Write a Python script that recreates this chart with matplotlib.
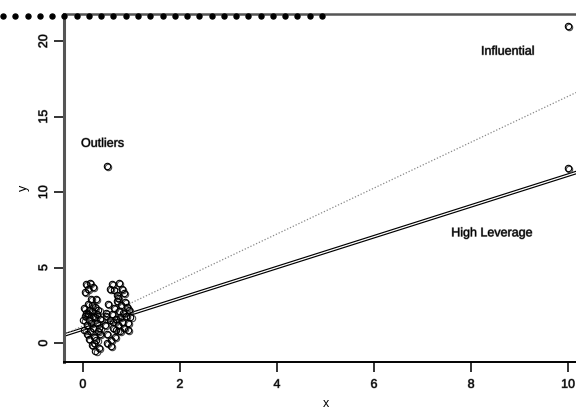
import numpy as np
import matplotlib
matplotlib.use('agg')
import matplotlib.pyplot as plt
from matplotlib import patheffects
from matplotlib.lines import Line2D
from matplotlib.transforms import offset_copy

plt.rcParams['font.family'] = ['Liberation Sans', 'DejaVu Sans']

# bulk of the sample: two clumps in 0 <= x <= 1
x_main = [0.02, 0.05, 0.08, 0.03, 0.10, 0.12, 0.15, 0.18, 0.20, 0.22,
          0.25, 0.28, 0.30, 0.33, 0.06, 0.10, 0.14, 0.20, 0.04, 0.17,
          0.24, 0.27, 0.32, 0.35, 0.12, 0.18, 0.26, 0.07, 0.13, 0.16,
          0.09, 0.21, 0.29, 0.34, 0.23, 0.01, 0.11, 0.19, 0.31, 0.36,
          0.45, 0.48, 0.50, 0.52, 0.55, 0.57, 0.60, 0.62, 0.64, 0.66,
          0.68, 0.70, 0.72, 0.74, 0.76, 0.78, 0.80, 0.82, 0.85, 0.88,
          0.90, 0.93, 0.95, 0.98, 0.55, 0.60, 0.65, 0.75, 0.80, 0.70,
          0.72, 0.84, 0.50, 0.58, 0.63, 0.69, 0.77, 0.86, 0.47, 0.92]
y_main = [2.3, 1.8, 1.2, 0.9, 2.6, 1.5, 0.8, 2.1, 1.0, 0.4,
          1.7, 0.2, 1.3, -0.3, 3.9, 3.6, 4.0, 3.7, 3.4, 2.9,
          2.4, 2.9, 2.2, 0.6, 0.3, -0.1, -0.5, 2.0, 2.2, 1.3,
          0.6, 1.8, 1.9, 1.0, 0.0, 1.5, 1.9, 2.5, 0.8, 1.6,
          1.2, 2.0, 0.6, 2.6, 1.5, 0.2, 1.9, 1.0, 2.3, 0.4,
          1.6, 2.8, 1.2, 2.1, 0.8, 2.5, 1.4, 2.0, 1.0, 1.8,
          2.4, 1.3, 2.2, 1.7, 3.6, 3.9, 3.5, 4.0, 3.6, 3.2,
          3.0, 3.3, 0.0, -0.2, 1.4, 0.9, 1.7, 2.7, 1.8, 0.9]

# unusual points
x_extra = [0.5, 10.0, 10.0]
y_extra = [11.75, 21.0, 11.6]

# fitted lines (intercept, slope)
fit_solid = (0.93, 1.02)
fit_dotted = (1.15, 1.52)

labels = ['Outliers', 'Influential', 'High Leverage']
label_x = [0.41, 8.76, 8.43]
label_y = [13.2, 19.3, 7.27]

x_ticks = [0, 2, 4, 6, 8, 10]
y_ticks = [0, 5, 10, 15, 20]

fig = plt.figure(figsize=(5.76, 4.12), dpi=100)
ax = fig.add_axes([0.111, 0.121, 0.909, 0.845])
ax.set_xlim(-0.39, 10.4)
ax.set_ylim(-1.26, 21.8)

ghost = [patheffects.withStroke(linewidth=0.7, foreground='#888888')]

a, b = fit_solid
ax.axline((0, a), slope=b, color='black', lw=2.6, zorder=2)
ax.axline((0, a), slope=b, color='white', lw=0.9, zorder=2.1)
a, b = fit_dotted
ax.axline((0, a), slope=b, color='#888888', lw=0.9, ls=(0, (1, 1.5)), zorder=2)

xs = x_main + x_extra
ys = y_main + y_extra
# faint shifted copy under the circles gives the doubled outline
shifted = offset_copy(ax.transData, fig=fig, x=1.2, y=-1.0, units='dots')
ax.plot(xs, ys, ls='none', marker='o', ms=4.6, mfc='none', mec='#444444',
        mew=0.8, transform=shifted, zorder=2.9)
ax.plot(xs, ys, ls='none', marker='o', ms=4.6, mfc='none', mec='black',
        mew=0.8, zorder=3)

for t, tx, ty in zip(labels, label_x, label_y):
    ax.text(tx, ty, t, ha='center', va='center', fontsize=9,
            path_effects=ghost)

ax.set_xticks(x_ticks)
ax.set_yticks(y_ticks)
ax.set_xticklabels([str(v) for v in x_ticks], fontsize=9, path_effects=ghost)
ax.set_yticklabels([str(v) for v in y_ticks], fontsize=9, rotation=90,
                   va='center', path_effects=ghost)
ax.tick_params(axis='both', length=7, width=1.4, color='#333333', pad=5)
ax.tick_params(axis='y', pad=3)
ax.set_xlabel('x', fontsize=9, labelpad=5)
ax.set_ylabel('y', fontsize=9, labelpad=6)

ax.spines['left'].set_color('#555555')
ax.spines['left'].set_linewidth(2.2)
ax.spines['top'].set_color('#555555')
ax.spines['top'].set_linewidth(1.8)
ax.spines['bottom'].set_color('black')
ax.spines['bottom'].set_linewidth(1.4)
ax.spines['right'].set_visible(False)

# row of heavy dots along the top edge
dot_x = np.linspace(3, 322, 27) / 576
dot_y = np.full(27, (412 - 16) / 412)
fig.add_artist(Line2D(dot_x, dot_y, ls='none', marker='o', ms=3.6,
                      color='black', transform=fig.transFigure, clip_on=False))

fig.savefig('out.png', dpi=100)
